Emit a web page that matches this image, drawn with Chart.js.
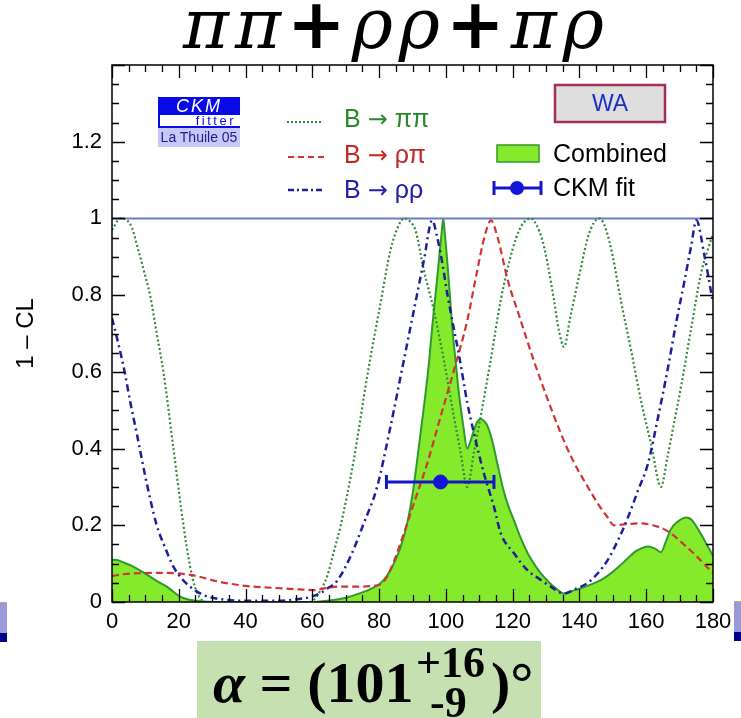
<!DOCTYPE html>
<html><head><meta charset="utf-8">
<script src="https://cdn.jsdelivr.net/npm/chart.js@4.4.1/dist/chart.umd.min.js"></script>
<style>
html,body{margin:0;padding:0;background:#fff;}
#wrap{position:relative;width:741px;height:718px;overflow:hidden;background:#fff;}
#c{position:absolute;left:0;top:0;}
.abs{position:absolute;white-space:nowrap;}
#title{left:183px;top:-16px;font-family:"DejaVu Serif";font-style:italic;font-size:70px;line-height:80px;letter-spacing:6px;color:#000;}
#title .p{font-family:"DejaVu Sans";font-style:normal;font-weight:bold;}
.leg{font-family:"Liberation Sans";font-size:25px;line-height:25px;}
.arr{font-family:"DejaVu Sans";font-size:24px;}
#logo1{left:158px;top:97px;width:82px;height:18px;background:#0a0ae6;color:#fff;font-family:"Liberation Sans";font-style:italic;font-size:18px;line-height:18px;text-align:center;letter-spacing:2px;}
#logo2{left:158px;top:115px;width:80px;height:11px;border-left:2px solid #0a0ae6;border-bottom:2px solid #0a0ae6;background:#fff;color:#0a0ae6;font-family:"Liberation Sans";font-size:13px;line-height:12px;text-align:right;letter-spacing:2.5px;}
#logo3{left:158px;top:128px;width:82px;height:19px;background:#c8c8f6;color:#1c1c90;font-family:"Liberation Sans";font-size:14px;line-height:19px;text-align:center;}
#formula{left:197px;top:641px;width:344px;height:77px;background:#c6e0b2;}
.fx{position:absolute;white-space:nowrap;font-family:"Liberation Serif";font-weight:bold;color:#000;line-height:1;}
.deco{position:absolute;width:7px;height:40px;background:linear-gradient(#c0b070 0,#c0b070 1px,#9a9ad6 1px,#9a9ad6 31px,#00008c 31px,#00008c 40px);}
</style></head>
<body><div id="wrap">
<canvas id="c" width="741" height="718"></canvas>
<div id="title" class="abs">ππ<span class="p">+</span>ρρ<span class="p">+</span>πρ</div>

<svg class="abs" style="left:0;top:0" width="741" height="240">
  <line x1="287" y1="122" x2="323" y2="122" stroke="#2f8a3a" stroke-width="2" stroke-dasharray="2 2"/>
  <line x1="288" y1="157" x2="324" y2="157" stroke="#d03434" stroke-width="2.2" stroke-dasharray="6 4"/>
  <line x1="288" y1="190" x2="324" y2="190" stroke="#1f1f9a" stroke-width="2.4" stroke-dasharray="6 3 2 3"/>
  <rect x="555" y="85" width="110" height="37" fill="#dedede" stroke="#a3304f" stroke-width="2.5"/>
  <rect x="497" y="145" width="42" height="17" fill="#86ea2c" stroke="#2e9a2e" stroke-width="1.5"/>
  <line x1="494" y1="188" x2="541" y2="188" stroke="#1515c8" stroke-width="3"/>
  <line x1="494" y1="181" x2="494" y2="195" stroke="#1515c8" stroke-width="3"/>
  <line x1="541" y1="181" x2="541" y2="195" stroke="#1515c8" stroke-width="3"/>
  <circle cx="517" cy="188" r="7" fill="#1515d8"/>
</svg>
<div class="abs leg" style="left:344px;top:106px;color:#2a8a2a;">B <span class="arr">→</span> ππ</div>
<div class="abs leg" style="left:344px;top:142px;color:#c02828;">B <span class="arr">→</span> ρπ</div>
<div class="abs leg" style="left:344px;top:177px;color:#2020a8;">B <span class="arr">→</span> ρρ</div>
<div class="abs leg" style="left:553px;top:141px;color:#000;">Combined</div>
<div class="abs leg" style="left:553px;top:175px;color:#000;">CKM fit</div>
<div class="abs" style="left:555px;top:92px;width:110px;text-align:center;font-family:'Liberation Sans';font-size:23px;line-height:23px;color:#1a30c0;">WA</div>
<div id="logo1" class="abs">CKM</div>
<div id="logo2" class="abs"><span style="padding-right:4px">fitter</span></div>
<div id="logo3" class="abs">La Thuile 05</div>

<div id="formula" class="abs">
  <div class="fx" style="left:16px;top:13px;font-size:58px;"><i>α</i> = (101</div>
  <div class="fx" style="left:219px;top:0px;font-size:44px;">+16</div>
  <div class="fx" style="left:233px;top:40px;font-size:44px;">-9</div>
  <div class="fx" style="left:294px;top:13px;font-size:58px;">)°</div>
</div>
<div class="deco" style="left:0;top:602px;"></div>
<div class="deco" style="left:734px;top:601px;"></div>
</div>
<script>
// ---- data ----
const piPiX = [0,2.5,4.5,6,7.9,9.5,11.4,13.4,15.4,18.4,21.4,23.4,25,26.4,28,40,50,59,60.4,62.4,64.4,66.4,68.4,72.4,76.4,80.4,83.4,85.5,87.5,89.5,90.9,93.4,96.4,99.4,102.4,104.4,106.4,108.4,110.4,113.4,116.4,120,122,123.4,125.4,127,129,130.5,132.4,133.8,135.4,137.2,140.4,142.5,144.4,146,147.8,150,152.4,155.4,158.4,161.5,164.4,166.4,168.4,170.4,173.4,176.4,178.5,180];
const piPiY = [0.97,1.0,0.995,0.975,0.917,0.865,0.8,0.7,0.6,0.4,0.2,0.092,0.035,0.01,0,0,0,0,0.005,0.03,0.066,0.13,0.196,0.37,0.587,0.778,0.917,0.975,1.0,0.99,0.969,0.865,0.76,0.63,0.483,0.39,0.30,0.39,0.483,0.63,0.786,0.92,0.97,0.99,1.0,0.985,0.94,0.88,0.786,0.71,0.665,0.74,0.87,0.95,0.99,1.0,0.975,0.9,0.786,0.66,0.526,0.41,0.30,0.38,0.47,0.56,0.71,0.856,0.92,0.96];

const rhoPiX = [0,4,8,16,24,32,40,48,56,61,64,68,74,78,80.4,82.4,84.4,86.4,90.4,94.4,98.4,102.4,106.4,109.4,111.5,113.5,115.5,118.5,122,126.3,130,134.4,138,142.5,146,148.5,150.3,154,158.4,162,165.3,168,171.3,175,180];
const rhoPiY = [0.068,0.073,0.075,0.076,0.07,0.053,0.042,0.037,0.033,0.031,0.036,0.04,0.04,0.042,0.046,0.066,0.105,0.153,0.257,0.361,0.483,0.604,0.734,0.865,0.95,0.995,0.95,0.84,0.745,0.63,0.54,0.44,0.37,0.30,0.25,0.22,0.2,0.203,0.205,0.2,0.19,0.175,0.15,0.12,0.075];

const rhoRhoX = [0,2,3.9,5.5,7.4,10.4,13.4,16,18.4,21,23.4,27.4,32,40,50,56,59,62.4,64.5,67.4,71.4,75.4,79.4,83.4,87.4,90.4,93.4,95.9,97.4,99,100.4,102,104,106.4,108.4,111.4,114.4,116.4,120.4,124.4,128,131.4,135.3,139,142.5,145.5,148.5,151.5,154.5,157.5,160.5,163.5,166.5,169,171.3,173.5,175,177.5,180];
const rhoRhoY = [0.74,0.67,0.595,0.52,0.44,0.31,0.2,0.14,0.092,0.06,0.04,0.018,0.008,0.003,0.003,0.008,0.012,0.023,0.035,0.055,0.118,0.205,0.30,0.457,0.63,0.76,0.89,0.995,0.951,0.88,0.804,0.73,0.64,0.52,0.44,0.335,0.248,0.18,0.127,0.083,0.06,0.04,0.022,0.035,0.05,0.075,0.11,0.16,0.22,0.29,0.36,0.48,0.61,0.73,0.83,0.93,0.995,0.9,0.78];

const combinedX = [0,1,3.5,6.4,9,11.4,14,16.4,18.5,20.4,22.5,25,30,40,50,60,63,66.4,70,74.4,77.5,80.4,82.5,84.4,86.5,88.4,90,91.4,92.7,93.9,95,95.9,97,97.9,98.7,99.2,99.7,100.4,101.2,101.9,103,103.9,105.2,106.4,107.4,108.4,109.4,110.4,111.4,112.4,113.9,115.4,117,118.5,120.5,122.5,124.5,126.5,128.4,131,133,135.3,137.5,140.4,143.5,146.4,149,151.5,154,156.5,158.5,160.5,162.5,164.4,166,167.4,169.5,171,172,173.5,175.5,177.5,180];
const combinedY = [0.109,0.11,0.103,0.092,0.079,0.066,0.052,0.04,0.026,0.014,0.007,0.003,0,0,0,0,0.002,0.005,0.011,0.023,0.034,0.049,0.07,0.1,0.145,0.205,0.28,0.37,0.46,0.543,0.63,0.717,0.81,0.89,0.96,1.0,0.96,0.89,0.8,0.717,0.62,0.543,0.46,0.40,0.42,0.448,0.47,0.478,0.472,0.46,0.42,0.361,0.3,0.255,0.21,0.165,0.127,0.098,0.075,0.05,0.035,0.022,0.028,0.036,0.046,0.057,0.072,0.09,0.11,0.13,0.14,0.145,0.14,0.13,0.16,0.19,0.21,0.218,0.22,0.215,0.19,0.16,0.12];

const fitAlpha = [98.4];
const fitLow = [82.2];
const fitHigh = [114.4];
const fitLevel = [0.313];
const clOneX = [0, 180];
const clOneY = [1, 1];

const xTickValues = [0,20,40,60,80,100,120,140,160,180];
const yTickValues = [0,0.2,0.4,0.6,0.8,1,1.2];
const xMinorStep = 5;
const yMinorStep = 0.05;

function pts(xs, ys){ return xs.map((x,i)=>({x:x, y:ys[i]})); }

const frameTicks = {
  id:'frameTicks',
  afterDatasetsDraw(chart){
    const {ctx, chartArea:{left,right,top,bottom}, scales:{x,y}} = chart;
    ctx.save();
    ctx.strokeStyle = '#000';
    ctx.lineWidth = 1.3;
    ctx.beginPath();
    const n = Math.round((x.max - x.min)/xMinorStep);
    for(let i=0;i<=n;i++){
      const v = x.min + i*xMinorStep;
      const px = Math.round(x.getPixelForValue(v))+0.5;
      const L = xTickValues.includes(v) ? 13 : 7;
      ctx.moveTo(px,bottom); ctx.lineTo(px,bottom-L);
      ctx.moveTo(px,top); ctx.lineTo(px,top+L);
    }
    const m = Math.round((y.max - y.min)/yMinorStep);
    for(let i=0;i<=m;i++){
      const v = +(y.min + i*yMinorStep).toFixed(4);
      const py = Math.round(y.getPixelForValue(v))+0.5;
      const major = Math.abs(v/0.2 - Math.round(v/0.2))<1e-6;
      const L = major ? 13 : 7;
      ctx.moveTo(left,py); ctx.lineTo(left+L,py);
      ctx.moveTo(right,py); ctx.lineTo(right-L,py);
    }
    ctx.stroke();
    ctx.lineWidth = 1.5;
    ctx.strokeRect(left, top, right-left, bottom-top);
    ctx.restore();
  }
};

new Chart(document.getElementById('c'), {
  type:'line',
  data:{datasets:[
    {label:'Combined', data:pts(combinedX,combinedY), fill:'origin', backgroundColor:'#86ea2c', borderColor:'#2e9a2e', borderWidth:2, cubicInterpolationMode:'monotone', pointRadius:0, order:10},
    {label:'1', data:pts(clOneX,clOneY), borderColor:'#6c7cc4', borderWidth:2, pointRadius:0, fill:false, order:9},
    {label:'B → ππ', data:pts(piPiX,piPiY), borderColor:'#2f8a3a', borderWidth:2.2, borderDash:[2,2.4], cubicInterpolationMode:'monotone', pointRadius:0, fill:false, order:5},
    {label:'B → ρπ', data:pts(rhoPiX,rhoPiY), borderColor:'#d03434', borderWidth:2.2, borderDash:[7,4], cubicInterpolationMode:'monotone', pointRadius:0, fill:false, order:4},
    {label:'B → ρρ', data:pts(rhoRhoX,rhoRhoY), borderColor:'#1f1f9a', borderWidth:2.5, borderDash:[7,4,2,4], cubicInterpolationMode:'monotone', pointRadius:0, fill:false, order:3},
    {label:'CKM fit range', data:[{x:fitLow[0],y:fitLevel[0]},{x:fitHigh[0],y:fitLevel[0]}], borderColor:'#1515c8', borderWidth:3, pointStyle:'line', pointRotation:90, pointRadius:7, pointBorderWidth:3, pointBorderColor:'#1515c8', fill:false, order:1},
    {label:'CKM fit', data:pts(fitAlpha,fitLevel), showLine:false, pointStyle:'circle', pointRadius:7, pointBackgroundColor:'#1515d8', pointBorderColor:'#1515d8', order:0}
  ]},
  options:{
    responsive:false, animation:false, devicePixelRatio:1,
    layout:{padding:{left:0, top:65, right:28, bottom:76}},
    plugins:{legend:{display:false}, tooltip:{enabled:false}, title:{display:false}},
    scales:{
      x:{type:'linear', min:0, max:180,
         afterBuildTicks:s=>{ s.ticks = xTickValues.map(v=>({value:v})); },
         afterFit:s=>{ s.height = 40; s.paddingLeft = 0; s.paddingRight = 0; },
         grid:{display:false, drawTicks:false}, border:{display:false},
         ticks:{font:{family:'Liberation Sans', size:22}, color:'#000', padding:7, maxRotation:0, autoSkip:false,
                callback:v=>String(+(+v).toFixed(2))}},
      y:{type:'linear', min:0, max:1.4,
         afterBuildTicks:s=>{ s.ticks = yTickValues.map(v=>({value:v})); },
         afterFit:s=>{ s.width = 112; s.paddingTop = 0; s.paddingBottom = 0; },
         grid:{display:false, drawTicks:false}, border:{display:false},
         ticks:{font:{family:'Liberation Sans', size:22}, color:'#000', padding:10, autoSkip:false,
                callback:v=>String(+(+v).toFixed(2))},
         title:{display:true, text:'1 – CL', font:{family:'Liberation Sans', size:24}, color:'#000', padding:{top:12, bottom:0}}}
    }
  },
  plugins:[frameTicks]
});
</script>
</body></html>
